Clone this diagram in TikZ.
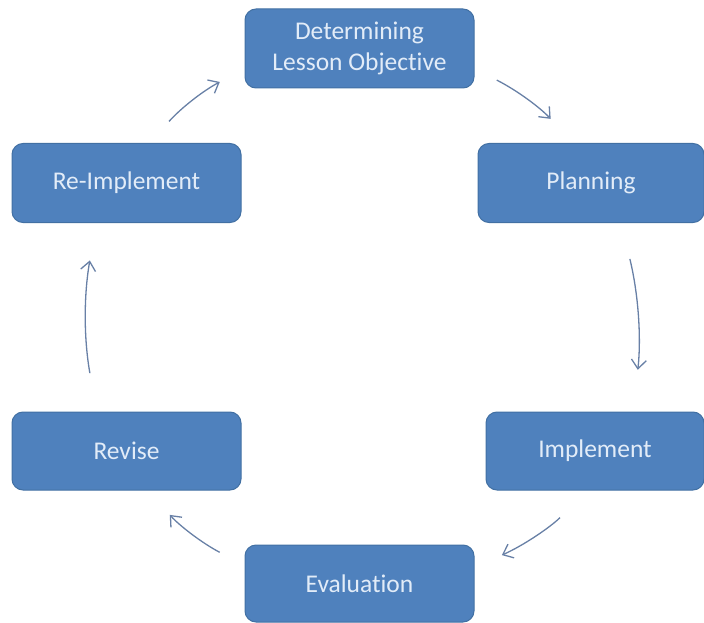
\documentclass[tikz,border=0pt]{standalone}
\usepackage{fontspec}
\setmainfont[Ligatures=NoCommon]{Carlito}
\usetikzlibrary{arrows.meta}
\definecolor{boxblue}{RGB}{79,129,189}
\definecolor{boxline}{RGB}{66,112,163}
\definecolor{boxtext}{RGB}{226,236,248}
\definecolor{arrowgrey}{RGB}{104,128,166}
\begin{document}
\begin{tikzpicture}[x=1pt, y=-1pt,
    stepbox/.style={draw=boxline, fill=boxblue, line width=1pt, rounded corners=11pt,
        minimum width=229pt, minimum height=79pt, text=boxtext, align=center,
        font=\fontsize{25.5}{30.5}\selectfont, inner sep=0pt},
    cyc/.style={draw=arrowgrey, line width=1.3pt,
        -{Straight Barb[length=9pt,width=15pt]}, bend left=10}]
\useasboundingbox (0,0) rectangle (704,623);

\node (obj) at (359.5,48.5) [stepbox] {Determining\\Lesson Objective};
\node (plan) at (591,183) [stepbox, minimum width=226pt] {Planning};
\node (impl) at (595,451) [stepbox, minimum width=218pt, minimum height=78pt] {Implement};
\node (eval) at (359.5,583.5) [stepbox, minimum height=77pt] {Evaluation};
\node (revise) at (126.5,451) [stepbox, minimum height=78pt] {Revise};
\node (reimpl) at (126.5,183) [stepbox] {Re-Implement};

\draw[cyc, shorten <=25pt, shorten >=33pt] (obj.-10) to (plan.114);
\draw[cyc, shorten <=37pt, shorten >=42pt] (plan.-53) to (impl.46);
\draw[cyc, shorten <=39pt, shorten >=30pt] (impl.-100) to (eval.8);
\draw[cyc, shorten <=28pt, shorten >=33pt] (eval.171) to (revise.-62);
\draw[cyc, shorten <=39pt, shorten >=38pt] (revise.127) to (reimpl.233);
\draw[cyc, shorten <=29pt, shorten >=28pt] (reimpl.60) to (obj.190);

\end{tikzpicture}
\end{document}
